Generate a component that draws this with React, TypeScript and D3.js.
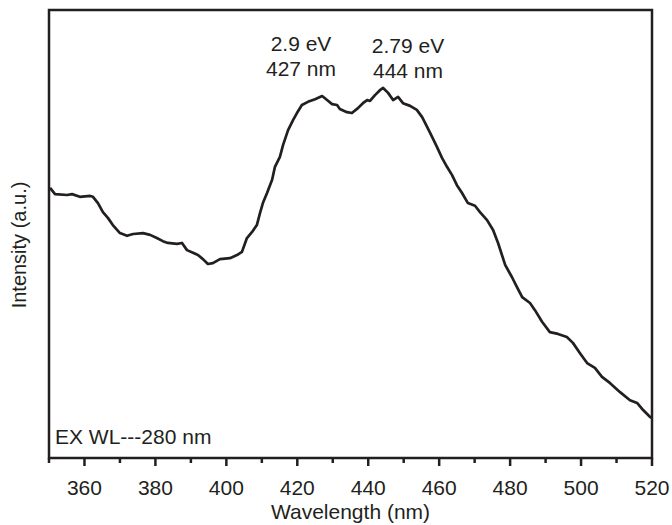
import React, { useRef, useEffect } from 'react';
import * as d3 from 'd3';

// wavelength (nm) and PL intensity (a.u.)
const wavelength = [
  350.3, 351.7, 355.1, 356.5, 358.7, 361.6, 362.4, 363.8, 365.2, 366.6, 368.0, 370.0,
  372.0, 373.7, 376.5, 378.5, 380.4, 382.1, 383.5, 386.1, 387.5, 388.9, 390.6, 392.0,
  393.4, 394.8, 396.2, 398.2, 401.0, 403.0, 404.4, 405.8, 407.2, 408.6, 409.5, 410.3,
  411.5, 412.9, 413.7, 415.1, 416.0, 417.4, 418.8, 419.9, 421.3, 423.0, 425.0, 427.0,
  428.4, 429.8, 431.2, 432.0, 434.0, 435.4, 437.1, 438.5, 439.7, 440.5, 441.9, 443.3,
  444.2, 445.6, 447.0, 448.4, 449.8, 451.8, 453.7, 455.2, 456.6, 458.0, 459.4, 460.8,
  462.2, 463.6, 465.0, 466.4, 468.1, 470.1, 471.5, 473.5, 475.2, 476.6, 478.6, 480.5,
  481.9, 483.4, 485.6, 487.0, 489.0, 491.2, 493.5, 496.0, 497.7, 499.7, 501.7, 503.9,
  505.9, 508.2, 511.0, 513.8, 515.8, 517.5, 519.4, 520.0,
];
const intensity = [
  60.3, 58.9, 58.7, 58.9, 58.3, 58.5, 58.3, 56.9, 54.9, 53.6, 52.0, 50.2,
  49.6, 50.0, 50.2, 49.8, 49.1, 48.4, 48.0, 47.8, 48.0, 46.4, 45.8, 45.3,
  44.4, 43.3, 43.5, 44.4, 44.6, 45.3, 46.0, 49.1, 50.4, 52.0, 54.7, 56.9,
  59.2, 62.1, 65.0, 67.2, 69.9, 73.2, 75.4, 77.0, 78.8, 79.5, 80.1, 80.8,
  79.9, 79.0, 78.8, 77.9, 77.2, 77.0, 78.1, 79.2, 79.9, 79.7, 81.0, 82.1,
  82.6, 81.5, 79.9, 80.6, 79.2, 78.6, 77.7, 76.1, 73.9, 71.7, 69.4, 67.0,
  65.0, 63.2, 60.9, 59.2, 56.9, 56.3, 54.9, 53.1, 50.9, 48.0, 43.1, 40.4,
  38.2, 35.9, 34.6, 33.0, 30.4, 28.1, 27.7, 27.0, 25.7, 23.4, 21.2, 20.1,
  18.1, 16.7, 14.7, 12.9, 12.3, 10.7, 9.2, 8.9,
];

const majorTicks = [360, 380, 400, 420, 440, 460, 480, 500, 520];
const minorTicks = [350, 370, 390, 410, 430, 450, 470, 490, 510];

const peakLabels = [
  { lines: ['2.9 eV', '427 nm'], cx: 301, dy: 0 },
  { lines: ['2.79 eV', '444 nm'], cx: 408, dy: 1.5 },
];

function App() {
  const ref = useRef(null);

  useEffect(() => {
    const W = 672, H = 525;
    const left = 49, right = 652, top = 10, bottom = 458;
    const font = '"Liberation Sans", Arial, sans-serif';
    const ink = '#231f20';
    const fs = '21px';

    const root = d3.select(ref.current);
    root.selectAll('*').remove();
    const svg = root.append('svg')
      .attr('width', W)
      .attr('height', H)
      .style('position', 'absolute')
      .style('left', 0)
      .style('top', 0)
      .style('background', '#fff');

    const x = d3.scaleLinear().domain([350, 520]).range([left, right]);
    const y = d3.scaleLinear().domain([0, 100]).range([bottom, top]);

    const data = wavelength.map((w, i) => [w, intensity[i]]);

    // frame
    svg.append('rect')
      .attr('x', left).attr('y', top)
      .attr('width', right - left).attr('height', bottom - top)
      .attr('fill', 'none').attr('stroke', ink).attr('stroke-width', 2.5);

    // curve
    const line = d3.line().x((d) => x(d[0])).y((d) => y(d[1]));
    svg.append('path')
      .datum(data)
      .attr('d', line)
      .attr('fill', 'none')
      .attr('stroke', ink)
      .attr('stroke-width', 2.7)
      .attr('stroke-linejoin', 'round');

    // bottom axis ticks
    const axis = svg.append('g').attr('transform', `translate(0,${bottom})`);
    axis.selectAll('.major').data(majorTicks).enter().append('line')
      .attr('x1', (d) => x(d)).attr('x2', (d) => x(d))
      .attr('y1', 0).attr('y2', 8)
      .attr('stroke', ink).attr('stroke-width', 2.5);
    axis.selectAll('.minor').data(minorTicks).enter().append('line')
      .attr('x1', (d) => x(d)).attr('x2', (d) => x(d))
      .attr('y1', 0).attr('y2', 5)
      .attr('stroke', ink).attr('stroke-width', 2.5);
    axis.selectAll('text').data(majorTicks).enter().append('text')
      .attr('x', (d) => x(d)).attr('y', 36.5)
      .attr('text-anchor', 'middle')
      .style('font-family', font).style('font-size', fs).style('fill', ink)
      .text((d) => d);

    svg.append('text')
      .attr('x', (left + right) / 2).attr('y', 519)
      .attr('text-anchor', 'middle')
      .style('font-family', font).style('font-size', fs).style('fill', ink)
      .text('Wavelength (nm)');

    svg.append('text')
      .attr('transform', 'translate(26,245) rotate(-90)')
      .attr('text-anchor', 'middle')
      .style('font-family', font).style('font-size', '20px').style('fill', ink)
      .text('Intensity (a.u.)');

    // peak annotations
    peakLabels.forEach((p) => {
      p.lines.forEach((t, j) => {
        svg.append('text')
          .attr('x', p.cx).attr('y', 51 + p.dy + j * 25)
          .attr('text-anchor', 'middle')
          .style('font-family', font).style('font-size', fs).style('fill', ink)
          .text(t);
      });
    });

    svg.append('text')
      .attr('x', 55).attr('y', 444)
      .style('font-family', font).style('font-size', fs).style('fill', ink)
      .text('EX WL---280 nm');
  }, []);

  return <div ref={ref}></div>;
}

export default App;
